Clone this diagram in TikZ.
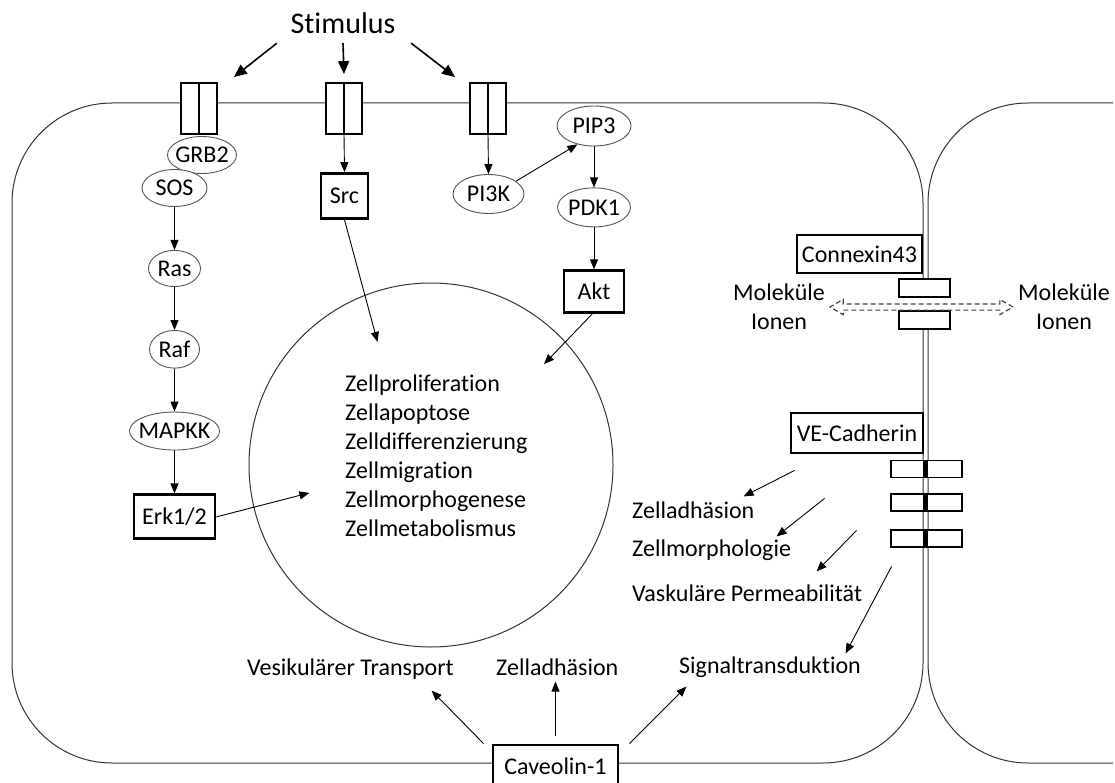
\documentclass[tikz,border=0pt]{standalone}
\usepackage{fontspec}
\setmainfont{Carlito}[Ligatures=NoCommon]
\usetikzlibrary{arrows.meta,positioning,shapes.geometric,shapes.arrows}
\definecolor{MGray}{HTML}{333333}
\definecolor{EGray}{HTML}{555555}
\definecolor{DGray}{HTML}{444444}

\begin{document}
\begin{tikzpicture}[x=1pt,y=-1pt,
  node distance=43pt,
  font=\fontsize{24}{29}\selectfont,
  ell/.style={ellipse,draw=EGray,fill=white,line width=0.9pt,inner xsep=-4pt,inner ysep=5pt,minimum height=37pt},
  kbox/.style={draw,fill=white,line width=2.8pt,inner sep=2pt,minimum height=42pt},
  rez/.style={draw,fill=white,line width=1.8pt,minimum width=36pt,minimum height=51pt,inner sep=0pt},
  gap/.style={draw,fill=white,line width=1.6pt,minimum width=51pt,minimum height=18pt,inner sep=0pt},
  lab/.style={anchor=west,inner sep=0pt},
  pf/.style={-{Triangle[length=10pt,width=8pt]},line width=0.9pt},
  spf/.style={-{Triangle[length=13pt,width=11pt]},line width=1.6pt},
  mem/.style={draw=MGray,line width=1pt,rounded corners=100pt}
]
  \useasboundingbox (0,0) rectangle (1115,783);
  % Zellen
  \draw[mem] (12,103) rectangle (923,763);
  \draw[mem] (1113,103) -- (928,103) -- (928,763) -- (1113,763);

  % Rezeptoren und Stimulus
  \foreach \n/\x in {1/199,2/344,3/488}
    {\node[rez] (rez\n) at (\x,108.5) {};
     \draw[line width=1.8pt] (rez\n.north) -- (rez\n.south);}
  \node[minimum width=150pt,minimum height=40pt,inner sep=0pt,
    font=\fontsize{30}{34}\selectfont] (stim) at (343,23) {Stimulus};
  \draw[spf] ([xshift=9pt]stim.south west) -- ([shift={(16,-5)}]rez1.north east);
  \draw[spf] (stim.south) -- ([yshift=8pt]rez2.north);
  \draw[spf] ([xshift=-7pt]stim.south east) -- ([shift={(-14,-5)}]rez3.north west);

  % MAPK-Weg
  \node[ell,minimum width=69pt] (grb2) at (202,155) {GRB2};
  \node[ell,minimum width=65pt] (sos) at (174.5,188) {SOS};
  \node[ell,minimum width=52pt,minimum height=36pt,below=of sos] (ras) {Ras};
  \node[ell,minimum width=50pt,minimum height=35pt,below=of ras] (raf) {Raf};
  \node[ell,minimum width=87pt,minimum height=38pt,below=of raf] (mapkk) {MAPKK};
  \node[kbox,minimum width=81pt,minimum height=44pt,below=of mapkk] (erk) {Erk1/2};
  \foreach \a/\b in {sos/ras,ras/raf,raf/mapkk,mapkk/erk}
    {\draw[pf] (\a) -- (\b);}

  % Src
  \node[kbox,minimum width=47pt,minimum height=45pt] (src) at (344.5,196) {Src};
  \draw[pf] (rez2.south) -- (src.north);

  % PI3K-Weg
  \node[ell,minimum width=71pt,minimum height=39pt] (pi3k) at (488.5,194) {PI3K};
  \node[ell,minimum width=74pt,minimum height=40pt] (pip3) at (594,126) {PIP3};
  \node[ell,minimum width=73pt,minimum height=39pt,below=41pt of pip3] (pdk1) {PDK1};
  \node[kbox,minimum width=60pt,below=42pt of pdk1] (akt) {Akt};
  \draw[pf] (rez3.south) -- (pi3k.north);
  \draw[pf] (pi3k.25) -- (pip3.228);
  \foreach \a/\b in {pip3/pdk1,pdk1/akt}
    {\draw[pf] (\a) -- (\b);}

  % Zellkern
  \node[circle,draw=MGray,line width=1pt,minimum size=364pt,inner sep=0pt] (kern) at (431,465) {};
  \node[lab,align=left] (fkt) at (345,456)
    {Zellproliferation\\Zellapoptose\\Zelldifferenzierung\\Zellmigration\\Zellmorphogenese\\Zellmetabolismus};
  \draw[pf] (src.south) -- ++(33,122);
  \draw[pf] ([xshift=-2pt]akt.south) -- ++(-48,50);
  \draw[pf] (erk.east) -- ++(93,-24);

  % Connexin43
  \node[kbox,minimum width=125pt,minimum height=38pt] (cx43) at (859.5,254) {Connexin43};
  \fill[white] (919,296) rectangle (932,312);
  \node[gap] (gj1) at (924.5,288) {};
  \node[gap] (gj2) at (924.5,320) {};
  \node[align=center,inner sep=2pt] (mol1) at (779,307) {Moleküle\\Ionen};
  \node[align=center,inner sep=2pt] (mol2) at (1064,307) {Moleküle\\Ionen};
  \path (mol1.east) -- (mol2.west) node[midway,double arrow,draw=DGray,line width=1.2pt,
    dash pattern=on 5pt off 3pt,minimum height=183pt,minimum width=14pt,
    inner xsep=0pt,inner ysep=2.5pt,double arrow head extend=4.5pt,double arrow tip angle=60] (dif) {};

  % VE-Cadherin
  \node[kbox,minimum width=132pt,minimum height=40pt] (vecad) at (857,433) {VE-Cadherin};
  \foreach \n/\y in {1/469,2/502.5,3/538.5}
    {\node[gap,minimum width=71pt,minimum height=17pt] (cad\n) at (926.5,\y) {};
     \fill ([xshift=-3.5pt]cad\n.north) rectangle ([xshift=1.5pt]cad\n.south);}
  \draw[pf] ([shift={(5,16)}]vecad.south west) -- ++(-51,26);
  \draw[pf] ([shift={(35,44)}]vecad.south west) -- ++(-48,38);
  \draw[pf] ([shift={(67,76)}]vecad.south west) -- ++(-40,41);
  \draw[pf] ([shift={(102,112)}]vecad.south west) -- ++(-46,87);
  \node[lab] (zadh) at (632,510) {Zelladhäsion};
  \node[lab] (zmor) at (632,550) {Zellmorphologie};
  \node[lab] (vperm) at (632,593) {Vaskuläre Permeabilität};
  \node[lab] (sig) at (679,667) {Signaltransduktion};

  % Caveolin-1
  \node[kbox,minimum width=125pt,minimum height=42pt] (cav) at (555.5,766) {Caveolin-1};
  \node[lab] (ves) at (247,669) {Vesikulärer Transport};
  \node[lab] (zadh2) at (496,667) {Zelladhäsion};
  \draw[pf] ([xshift=-8pt]cav.north west) -- ++(-52,-53);
  \draw[pf] ([yshift=8pt]cav.north) -- ++(0,-54);
  \draw[pf] ([xshift=10pt]cav.north east) -- ++(57,-57);
\end{tikzpicture}
\end{document}
